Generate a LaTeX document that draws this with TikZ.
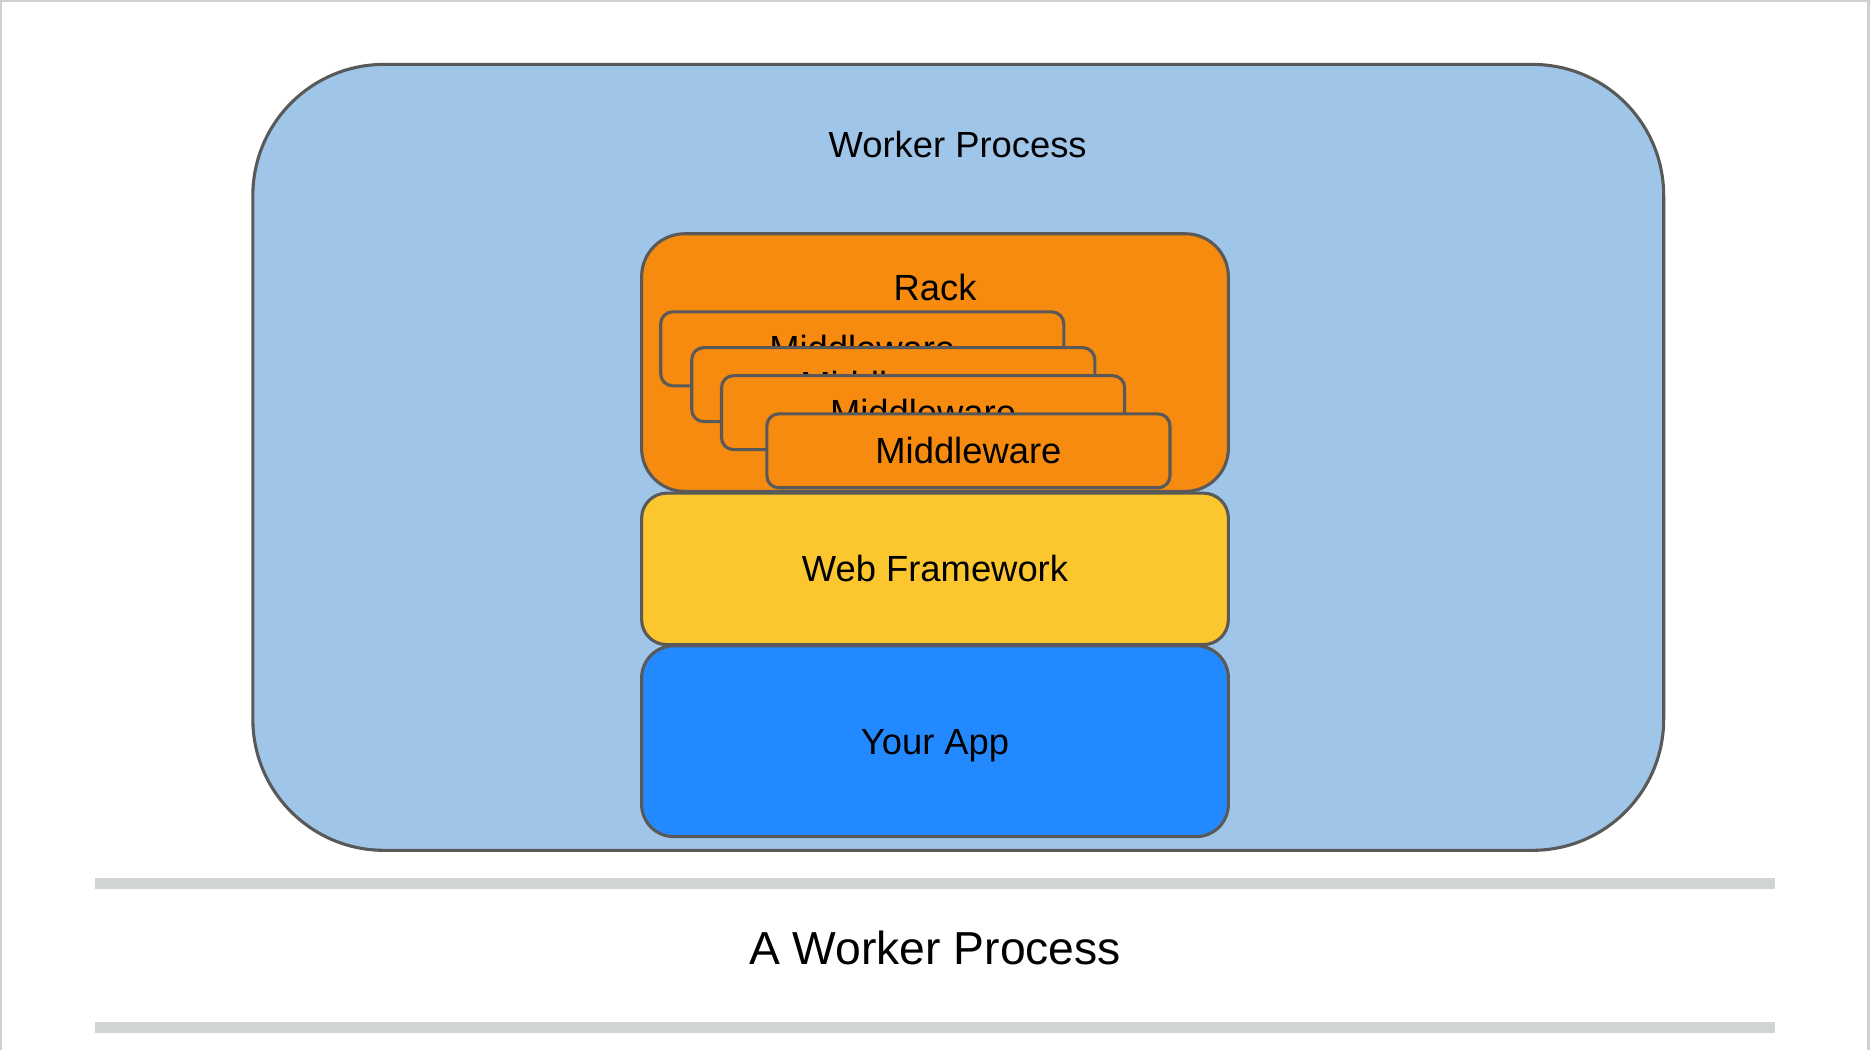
\documentclass[tikz,border=0pt]{standalone}
\usepackage{fontspec}
\setmainfont{Liberation Sans}
\usepackage{tikz}
\definecolor{procblue}{HTML}{9FC5E8}
\definecolor{edgegray}{HTML}{595959}
\definecolor{rackorange}{HTML}{F68B0F}
\definecolor{fwyellow}{HTML}{FCC62F}
\definecolor{appblue}{HTML}{2389FF}
\definecolor{bargray}{HTML}{CFD5D5}
\definecolor{framegray}{HTML}{D0D0D0}
\tikzstyle{lbl} = [inner sep=0pt, outer sep=0pt, text height=21.8pt, text depth=0pt, font={\fontsize{30.5}{36}\selectfont}]
\tikzstyle{layer} = [lbl, draw=edgegray, line width=2.6pt]
\tikzstyle{mw} = [layer, fill=rackorange, minimum width=338pt, minimum height=62pt, rounded corners=10pt]
\tikzstyle{bar} = [draw=bargray, line width=8.5pt]

\begin{document}
\begin{tikzpicture}[x=1pt, y=-1pt]
    \useasboundingbox (0,0) rectangle (1568,880);
    \draw[framegray, line width=2pt] (1,880) -- (1,1) -- (1566.6,1) -- (1566.6,880);
    \node[layer, fill=procblue, minimum width=1183pt, minimum height=659pt, rounded corners=110pt](worker) at (803.5,383.5){};
    \node[lbl](workerlbl) at (803,121){Worker Process};
    \node[layer, fill=rackorange, minimum width=492pt, minimum height=216pt, rounded corners=36pt](rack) at (784,304){};
    \node[lbl](racklbl) at (784,241){Rack};
    \node[mw](mw1) at (723,292.5){Middleware};
    \node[mw](mw2) at (749,322.5){Middleware};
    \node[mw](mw3) at (774,346){Middleware};
    \node[mw](mw4) at (812,378){Middleware};
    \node[layer, fill=fwyellow, minimum width=492pt, minimum height=127pt, rounded corners=21pt](web) at (784,477){Web Framework};
    \node[layer, fill=appblue, minimum width=492pt, minimum height=160pt, rounded corners=27pt](app) at (784,621.5){Your App};
    \draw[bar] (80,740.8) -- (1488,740.8);
    \draw[bar] (80,861.5) -- (1488,861.5);
    \node[lbl, text height=27.8pt, font={\fontsize{38.8}{46}\selectfont}](title) at (784,795){A Worker Process};
  \end{tikzpicture}
\end{document}
